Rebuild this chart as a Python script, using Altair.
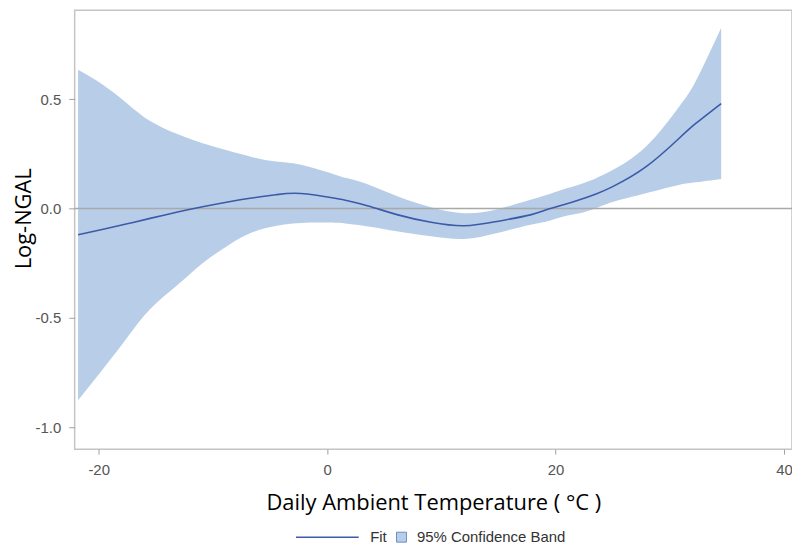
import altair as alt
import pandas as pd

temp = [-21.8, -19.6, -17.5, -15.5, -13.0, -10.9, -8.7, -6.6, -4.5, -2.3, 0.7, 1.8, 3.6,
        6.2, 9.1, 12.0, 14.9, 17.8, 19.2, 20.7, 22.1, 23.6, 25.0, 27.9, 30.8, 32.3, 34.5]
fit = [-0.12, -0.095, -0.07, -0.045, -0.015, 0.008, 0.03, 0.048, 0.063, 0.069, 0.047, 0.036, 0.012,
       -0.029, -0.063, -0.079, -0.059, -0.029, -0.006, 0.017, 0.04, 0.068, 0.10, 0.19, 0.32, 0.39, 0.48]
upper = [0.634, 0.565, 0.48, 0.40, 0.338, 0.298, 0.265, 0.236, 0.215, 0.20, 0.155, 0.138, 0.11,
         0.055, 0.006, -0.021, -0.003, 0.04, 0.062, 0.088, 0.11, 0.14, 0.176, 0.282, 0.464, 0.585, 0.827]
lower = [-0.877, -0.733, -0.59, -0.46, -0.345, -0.25, -0.17, -0.11, -0.08, -0.066, -0.065, -0.07, -0.082,
         -0.105, -0.127, -0.139, -0.112, -0.074, -0.059, -0.036, -0.021, 0.003, 0.03, 0.07, 0.108, 0.12, 0.135]

df = pd.DataFrame({"temp": temp, "fit": fit, "upper": upper, "lower": lower,
                   "series": "Fit", "band": "95% Confidence Band"})
ref = pd.DataFrame({"y": [0.0]})

xs = alt.Scale(domain=[-22.1, 40.7], nice=False, zero=False)
ys = alt.Scale(domain=[-1.1, 0.906], nice=False, zero=False)

minus_fix = "replace(format(datum.value, '{}'), '\u2212', '-')"

x_axis = alt.Axis(values=[-20, 0, 20, 40], labelExpr=minus_fix.format("d"), grid=False, domain=False,
                  tickColor="#a0a0a0", tickSize=5, labelColor="#555555", labelFontSize=15,
                  labelFont="Liberation Sans", labelPadding=8,
                  title="Daily Ambient Temperature ( \u00b0C )", titleFont="Open Sans",
                  titleFontSize=22, titleFontWeight="normal", titleColor="#000000",
                  titleY=61, titleBaseline="alphabetic")
y_axis = alt.Axis(values=[-1.0, -0.5, 0.0, 0.5], labelExpr=minus_fix.format(".1f"), grid=False,
                  domain=False, tickColor="#a0a0a0", tickSize=6, labelColor="#555555", labelFontSize=15,
                  labelFont="Liberation Sans", labelPadding=8, title="Log-NGAL", titleFont="Open Sans",
                  titleFontSize=22, titleFontWeight="normal", titleColor="#000000",
                  titleX=-44, titleY=209, titleBaseline="alphabetic", titleAlign="center")

band = alt.Chart(df).mark_area(opacity=1, interpolate="natural").encode(
    x=alt.X("temp:Q", scale=xs, axis=x_axis),
    y=alt.Y("lower:Q", scale=ys, axis=y_axis),
    y2="upper:Q",
    fill=alt.Fill("band:N", title=None,
                  scale=alt.Scale(domain=["95% Confidence Band"], range=["#b8cee8"]),
                  legend=alt.Legend(orient="none", legendX=321, legendY=522, padding=0,
                                    symbolType="square", symbolSize=100, symbolStrokeColor="#6f8cc6",
                                    symbolStrokeWidth=1, labelOffset=8, labelFontSize=15,
                                    labelFont="Liberation Sans", labelColor="#333333")),
)

rule = alt.Chart(ref).mark_rule(color="#a9a9a9", strokeWidth=1.5).encode(
    y=alt.Y("y:Q", scale=ys)
)

line = alt.Chart(df).mark_line(strokeWidth=1.6, interpolate="natural").encode(
    x=alt.X("temp:Q", scale=xs),
    y=alt.Y("fit:Q", scale=ys),
    stroke=alt.Stroke("series:N", title=None,
                      scale=alt.Scale(domain=["Fit"], range=["#3c5aa8"]),
                      legend=alt.Legend(orient="none", legendX=220, legendY=522, padding=0,
                                        symbolType="M-1,0H11.6", symbolSize=100, symbolStrokeWidth=1.5,
                                        labelOffset=62, labelFontSize=15, labelFont="Liberation Sans",
                                        labelColor="#333333")),
)

chart = alt.layer(band, rule, line).resolve_legend(fill="independent", stroke="independent").properties(
    width=721, height=441,
    autosize=alt.AutoSizeParams(type="none"),
    padding={"left": 67, "top": 1, "right": 0, "bottom": 99},
).configure_view(stroke="#c4c4c4", strokeWidth=1.5)

chart.save("out.html", embed_options={"renderer": "svg", "actions": False})
